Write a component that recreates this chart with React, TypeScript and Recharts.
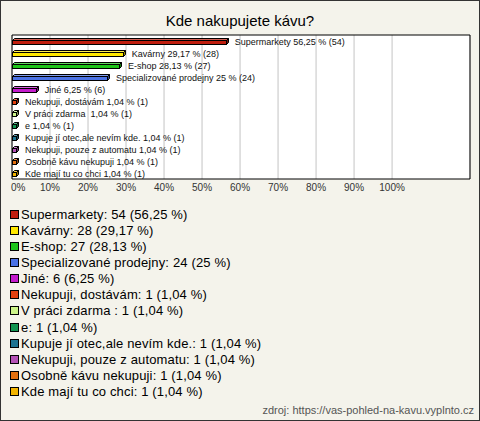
import React from 'react';
import { BarChart, Bar, XAxis, YAxis, CartesianGrid, Cell, LabelList, ReferenceArea } from 'recharts';

const categories = [
  'Supermarkety',
  'Kavárny',
  'E-shop',
  'Specializované prodejny',
  'Jiné',
  'Nekupuji, dostávám',
  'V práci zdarma ',
  'e',
  'Kupuje jí otec,ale nevím kde.',
  'Nekupuji, pouze z automatu',
  'Osobně kávu nekupuji',
  'Kde mají tu co chci',
];
const counts = [54, 28, 27, 24, 6, 1, 1, 1, 1, 1, 1, 1];
const percents = [56.25, 29.17, 28.13, 25, 6.25, 1.04, 1.04, 1.04, 1.04, 1.04, 1.04, 1.04];
const colors = [
  '#c01e0e',
  '#ffe800',
  '#1ec41a',
  '#4a72e4',
  '#c41ccc',
  '#e4400e',
  '#ccf488',
  '#129450',
  '#1e7492',
  '#b452b6',
  '#e4700e',
  '#f2b400',
];
const xTicks = [0, 10, 20, 30, 40, 50, 60, 70, 80, 90, 100];

const data = categories.map((name, i) => ({
  name,
  value: percents[i],
  count: counts[i],
  color: colors[i],
}));

const fmt = (v: number) => String(v).replace('.', ',');

const shade = (hex: string, f: number) => {
  const n = parseInt(hex.slice(1), 16);
  const ch = (s: number) => {
    let v = (n >> s) & 255;
    v = f < 1 ? Math.round(v * f) : Math.round(v + (255 - v) * (f - 1));
    return Math.max(0, Math.min(255, v));
  };
  return `rgb(${ch(16)},${ch(8)},${ch(0)})`;
};

const Bar3D = (props: any) => {
  const { x, y, width, height, payload } = props;
  const d = 2;
  const c = payload.color;
  const X = Math.round(x) + 0.5;
  const W = Math.max(2, Math.round(width));
  const Y = Math.round(y) + 0.5;
  const H = Math.round(height);
  const fy = Y + d;
  const fh = H - d;
  return (
    <g stroke="#000" strokeWidth={1}>
      <polygon points={`${X},${fy} ${X + d},${Y} ${X + W + d},${Y} ${X + W},${fy}`} fill={shade(c, 1.3)} />
      <polygon
        points={`${X + W},${fy} ${X + W + d},${Y} ${X + W + d},${Y + fh} ${X + W},${fy + fh}`}
        fill={shade(c, 0.6)}
      />
      <rect x={X} y={fy} width={W} height={fh} fill={c} />
    </g>
  );
};

const BarLabel = (props: any) => {
  const { x, y, width, height, index } = props;
  const d = data[index];
  return (
    <text
      x={x + width + 9}
      y={y + height / 2 + 1}
      fontSize={9}
      fill="#111"
      dominantBaseline="central"
      style={{ whiteSpace: 'pre' }}
      fontFamily="'Liberation Sans', Arial, sans-serif"
    >
      {`${d.name} ${fmt(d.value)} % (${d.count})`}
    </text>
  );
};

const Tick = (props: any) => {
  const { x, y, payload } = props;
  const first = payload.value === 0;
  return (
    <text
      x={first ? x - 1 : x}
      y={y + 4}
      textAnchor={first ? 'start' : 'middle'}
      fontSize={10}
      fill="#333"
      fontFamily="'Liberation Sans', Arial, sans-serif"
    >
      {`${payload.value}%`}
    </text>
  );
};

export default function App() {
  return (
    <div
      style={{
        position: 'absolute',
        left: 0,
        top: 0,
        width: 480,
        height: 421,
        boxSizing: 'border-box',
        border: '1px solid #333',
        background: '#f4f3eb',
        fontFamily: "'Liberation Sans', Arial, sans-serif",
        overflow: 'hidden',
      }}
    >
      <div
        style={{
          position: 'absolute',
          left: 0,
          top: 11,
          width: 478,
          textAlign: 'center',
          fontSize: 15,
          color: '#000',
          lineHeight: '18px',
        }}
      >
        Kde nakupujete kávu?
      </div>
      <div style={{ position: 'absolute', left: -1, top: -1 }}>
        <BarChart
          width={480}
          height={200}
          data={data}
          layout="vertical"
          margin={{ top: 35, right: 10, left: 12, bottom: 1 }}
          barSize={6}
        >
          <CartesianGrid horizontal={false} stroke="#c4c4c4" fill="#fff" />
          <XAxis
            type="number"
            domain={[0, 120.5]}
            ticks={xTicks}
            axisLine={false}
            tickLine={false}
            height={20}
            tick={<Tick />}
            interval={0}
          />
          <YAxis type="category" dataKey="name" hide />
          <ReferenceArea x1={0} x2={120.5} fill="none" stroke="#000" strokeWidth={1} ifOverflow="visible" />
          <Bar dataKey="value" shape={<Bar3D />} isAnimationActive={false}>
            {data.map((d, i) => (
              <Cell key={i} fill={d.color} />
            ))}
            <LabelList dataKey="value" content={<BarLabel />} />
          </Bar>
        </BarChart>
      </div>
      <div style={{ position: 'absolute', left: 9, top: 205 }}>
        {data.map((d, i) => (
          <div
            key={i}
            style={{ display: 'flex', alignItems: 'center', height: 16.15, fontSize: 13, color: '#000', whiteSpace: 'pre' }}
          >
            <span
              style={{
                display: 'inline-block',
                width: 7,
                height: 7,
                border: '1px solid #000',
                background: d.color,
                marginRight: 2,
              }}
            />
            <span style={{ letterSpacing: 0.15 }}>{`${d.name}: ${d.count} (${fmt(d.value)} %)`}</span>
          </div>
        ))}
      </div>
      <div
        style={{
          position: 'absolute',
          right: 5,
          top: 402,
          fontSize: 11,
          color: '#555',
          lineHeight: '14px',
        }}
      >
        zdroj: https://vas-pohled-na-kavu.vyplnto.cz
      </div>
    </div>
  );
}
